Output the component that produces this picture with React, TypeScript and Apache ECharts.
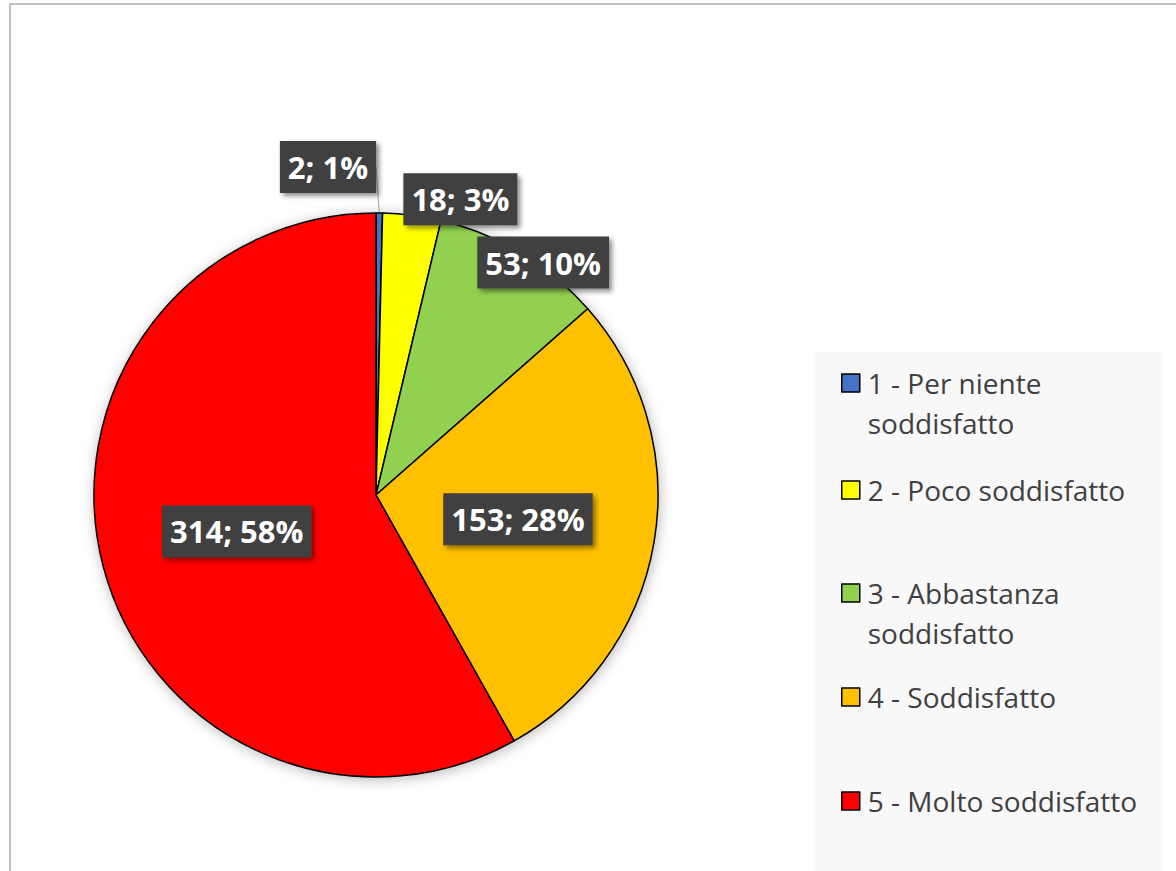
import React, { useEffect, useRef } from 'react';
import * as echarts from 'echarts';

// ---- data ----
const categories = [
  '1 - Per niente soddisfatto',
  '2 - Poco soddisfatto',
  '3 - Abbastanza soddisfatto',
  '4 - Soddisfatto',
  '5 - Molto soddisfatto',
];
const legendLabels = [
  '1 - Per niente\nsoddisfatto',
  '2 - Poco soddisfatto',
  '3 - Abbastanza\nsoddisfatto',
  '4 - Soddisfatto',
  '5 - Molto soddisfatto',
];
const counts = [2, 18, 53, 153, 314];
const percents = [1, 3, 10, 28, 58];
const colors = ['#4472C4', '#FFFF00', '#92D050', '#FFC000', '#FF0000'];

// ---- style ----
const FONT = '"Open Sans", "Noto Sans", sans-serif';
const CX = 376;
const CY = 495;
const R = 282;
const legendTops = [323, 470, 533, 677, 781];
const labelShift: Record<number, any> = {
  0: { x: CX - 48, y: CY - 328, align: 'center', verticalAlign: 'middle' },
  1: { dx: 66, dy: -153 },
  2: { dx: 93, dy: -109 },
};

export default function App() {
  const ref = useRef<HTMLDivElement>(null);

  useEffect(() => {
    if (!ref.current) return;
    const chart = echarts.init(ref.current, undefined, { renderer: 'svg' });
    const total = counts.reduce((a, b) => a + b, 0);

    const legends = categories.map((name, i) => {
      const multi = legendLabels[i].includes('\n');
      return {
        data: [name],
        left: 841,
        top: legendTops[i],
        padding: 0,
        orient: 'vertical',
        icon: 'rect',
        itemWidth: 18,
        itemHeight: 18,
        selectedMode: false,
        itemStyle: { borderColor: '#000', borderWidth: 1.5 },
        // a leading blank line keeps the marker level with the first text line
        formatter: () => (multi ? '\n' + legendLabels[i] : legendLabels[i]),
        textStyle: {
          color: '#404040',
          fontFamily: FONT,
          fontSize: 28,
          lineHeight: 40,
          padding: [0, 0, 0, 3],
        },
      };
    });

    chart.setOption({
      animation: false,
      backgroundColor: '#ffffff',
      graphic: [
        {
          type: 'rect',
          z: -10,
          shape: { x: 10, y: 4, width: 1400, height: 1000 },
          style: { fill: 'none', stroke: '#c0c0c0', lineWidth: 2 },
          silent: true,
        },
        {
          type: 'rect',
          z: -9,
          shape: { x: 815, y: 352, width: 347, height: 600 },
          style: { fill: '#f8f8f8' },
          silent: true,
        },
      ],
      legend: legends,
      series: [
        {
          type: 'pie',
          silent: true,
          center: [CX, CY],
          radius: R,
          startAngle: 90,
          label: { show: false },
          labelLine: { show: false },
          itemStyle: {
            color: '#ffffff',
            shadowBlur: 14,
            shadowColor: 'rgba(0,0,0,0.3)',
            shadowOffsetX: 1,
            shadowOffsetY: 2,
          },
          data: [{ name: '', value: total }],
        },
        {
          type: 'pie',
          center: [CX, CY],
          radius: R,
          startAngle: 90,
          clockwise: true,
          avoidLabelOverlap: false,
          itemStyle: { borderColor: '#000000', borderWidth: 1.5 },
          label: {
            show: true,
            position: 'inside',
            formatter: (p: any) => `${counts[p.dataIndex]}; ${percents[p.dataIndex]}%`,
            color: '#ffffff',
            fontFamily: FONT,
            fontWeight: 'bold',
            fontSize: 31,
            lineHeight: 40,
            backgroundColor: '#404040',
            padding: [6, 8, 6, 8],
            shadowColor: 'rgba(0,0,0,0.45)',
            shadowBlur: 5,
            shadowOffsetX: 3,
            shadowOffsetY: 3,
          },
          labelLine: { show: false },
          labelLayout: (params: any) => labelShift[params.dataIndex] || {},
          data: categories.map((name, i) => {
            const item: any = { name, value: counts[i], itemStyle: { color: colors[i] } };
            if (i === 0) {
              item.label = { position: 'outside' };
              item.labelLine = {
                show: true,
                length: 12,
                length2: 0,
                lineStyle: { color: '#a6a6a6', width: 1 },
              };
            }
            return item;
          }),
        },
      ],
    });

    return () => chart.dispose();
  }, []);

  return (
    <div
      ref={ref}
      style={{ position: 'absolute', left: 0, top: 0, width: 1176, height: 871 }}
    />
  );
}
